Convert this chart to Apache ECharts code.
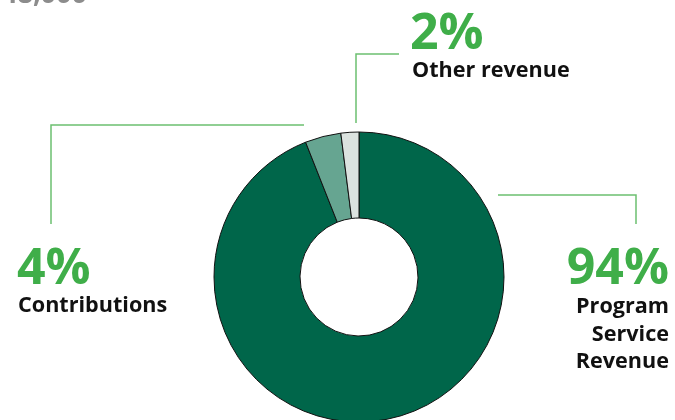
<!DOCTYPE html>
<html>
<head>
<meta charset="utf-8">
<script src="https://cdn.jsdelivr.net/npm/echarts@6/dist/echarts.min.js"></script>
<style>
html,body{margin:0;padding:0;background:#fff;}
#c{width:675px;height:420px;}
</style>
</head>
<body>
<div id="c"></div>
<script>
const categories = ['Program Service Revenue', 'Contributions', 'Other revenue'];
const values = [94, 4, 2];
const labelNames = ['Program\nService\nRevenue', 'Contributions', 'Other revenue'];
const topText = '48,000';

const sliceColors = ['#00664a', '#66a591', '#dbe2df'];
const pctColor = '#3fae49';
const lineColor = '#6cc070';
const FONT = '"Open Sans", "Noto Sans", sans-serif';

const total = values.reduce((a, b) => a + b, 0);
const pct = values.map(v => Math.round(v / total * 100) + '%');

const chart = echarts.init(document.getElementById('c'), null, {renderer: 'canvas'});

function txt(text, x, y, size, color, align) {
  return {
    type: 'text', x: x, y: y, silent: true,
    style: {
      text: text, fill: color, align: align, verticalAlign: 'middle',
      font: 'bold ' + size + 'px ' + FONT
    }
  };
}
function line(points) {
  return {
    type: 'polyline', silent: true,
    shape: {points: points},
    style: {stroke: lineColor, lineWidth: 1.5, fill: null}
  };
}

const graphics = [];
// top cut-off figure
graphics.push(txt(topText, 2, -5, 27, '#8c8c8c', 'left'));

// Program Service Revenue (index 0)
graphics.push(line([[498, 195], [636, 195], [636, 224]]));
graphics.push(txt(pct[0], 669, 270, 50, pctColor, 'right'));
labelNames[0].split('\n').forEach((s, i) => {
  graphics.push(txt(s, 669, 307 + i * 27.5, 21.6, '#111', 'right'));
});

// Contributions (index 1)
graphics.push(line([[304, 125], [51, 125], [51, 224]]));
graphics.push(txt(pct[1], 17, 270, 50, pctColor, 'left'));
graphics.push(txt(labelNames[1], 18, 306, 21.6, '#111', 'left'));

// Other revenue (index 2)
graphics.push(line([[356, 123], [356, 54], [399, 54]]));
graphics.push(txt(pct[2], 410, 35, 50, pctColor, 'left'));
graphics.push(txt(labelNames[2], 412, 71, 21.6, '#111', 'left'));

chart.setOption({
  animation: false,
  backgroundColor: '#fff',
  series: [{
    type: 'pie',
    center: [359, 277],
    radius: [59, 145],
    startAngle: 90,
    clockwise: true,
    silent: true,
    label: {show: false},
    labelLine: {show: false},
    itemStyle: {borderColor: '#111', borderWidth: 1},
    data: categories.map((c, i) => ({
      name: c, value: values[i], itemStyle: {color: sliceColors[i]}
    }))
  }],
  graphic: graphics
});
</script>
</body>
</html>
